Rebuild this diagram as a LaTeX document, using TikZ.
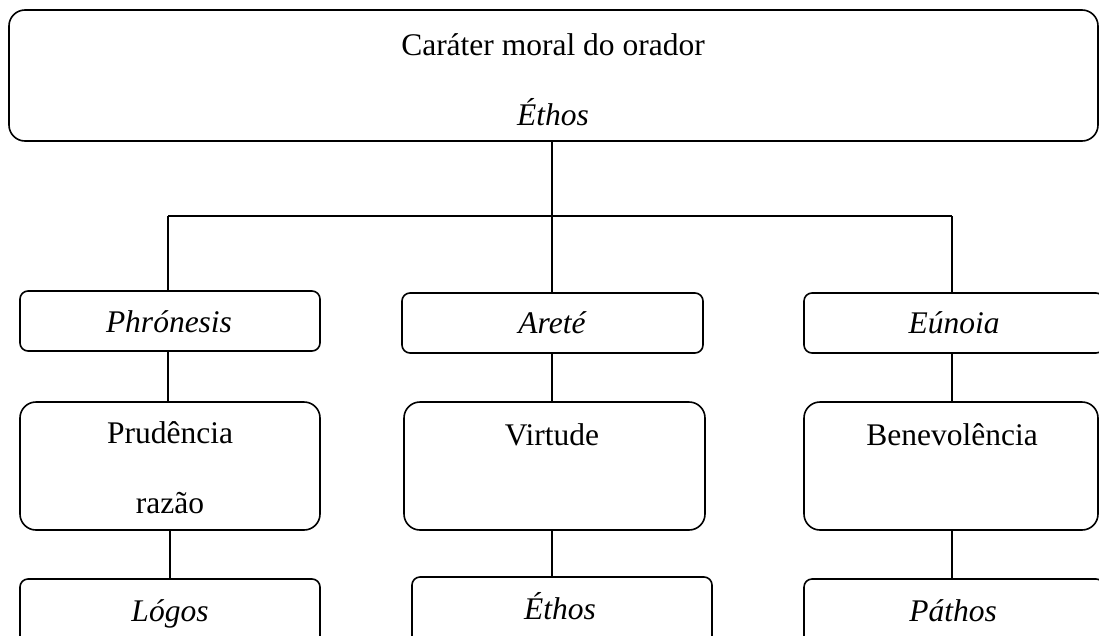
\documentclass[tikz,border=0pt]{standalone}
\usepackage{fontspec}
\setmainfont{Liberation Serif}
\begin{document}
\begin{tikzpicture}[x=1pt,y=-1pt,
  box/.style={draw,line width=1.6pt,inner sep=0pt,outer sep=0pt,rounded corners=#1},
  txt/.style={anchor=base,inner sep=0pt,font=\fontsize{31.5}{36}\selectfont},
  conn/.style={line width=1.6pt}]
\useasboundingbox (0,0) rectangle (1099,635);
\clip (0,0) rectangle (1099,635);
% boxes
\node[box=16pt,minimum width=1089pt,minimum height=131pt] (top) at (553.5,75.5) {};
\node[box=8pt,minimum width=300pt,minimum height=60pt] (phr) at (170,321) {};
\node[box=8pt,minimum width=301pt,minimum height=60pt] (are) at (552.5,323) {};
\node[box=8pt,minimum width=300pt,minimum height=60pt] (eun) at (954,323) {};
\node[box=16pt,minimum width=300pt,minimum height=128pt] (pru) at (170,466) {};
\node[box=16pt,minimum width=301pt,minimum height=128pt] (vir) at (554.5,466) {};
\node[box=16pt,minimum width=294pt,minimum height=128pt] (ben) at (951,466) {};
\node[box=8pt,minimum width=300pt,minimum height=80pt] (log) at (170,619) {};
\node[box=8pt,minimum width=300pt,minimum height=80pt] (eth) at (562,617) {};
\node[box=8pt,minimum width=300pt,minimum height=80pt] (pat) at (954,619) {};
% texts
\node[txt] (t1) at (553,55) {Caráter moral do orador};
\node[txt] (t2) at (553,125) {\itshape Éthos};
\node[txt] (t3) at (169,332) {\itshape Phrónesis};
\node[txt] (t4) at (552,333) {\itshape Areté};
\node[txt] (t5) at (954,333) {\itshape Eúnoia};
\node[txt] (t6) at (170,443) {Prudência};
\node[txt] (t7) at (170,513) {razão};
\node[txt] (t8) at (552,445) {Virtude};
\node[txt] (t9) at (952,445) {Benevolência};
\node[txt] (t10) at (170,621) {\itshape Lógos};
\node[txt] (t11) at (560,619) {\itshape Éthos};
\node[txt] (t12) at (953,621) {\itshape Páthos};
% connectors
\coordinate (jm) at (552,216);
\coordinate (jl) at (168,216);
\coordinate (jr) at (952,216);
\draw[conn] (jm |- top.south) -- (jm);
\draw[conn] (jl) -- (jr);
\draw[conn] (jl) -- (jl |- phr.north);
\draw[conn] (jm) -- (jm |- are.north);
\draw[conn] (jr) -- (jr |- eun.north);
\draw[conn] (jl |- phr.south) -- (jl |- pru.north);
\coordinate (cl) at (170,0);
\draw[conn] (cl |- pru.south) -- (cl |- log.north);
\draw[conn] (jm |- are.south) -- (jm |- vir.north);
\draw[conn] (jm |- vir.south) -- (jm |- eth.north);
\draw[conn] (jr |- eun.south) -- (jr |- ben.north);
\draw[conn] (jr |- ben.south) -- (jr |- pat.north);
\end{tikzpicture}
\end{document}
